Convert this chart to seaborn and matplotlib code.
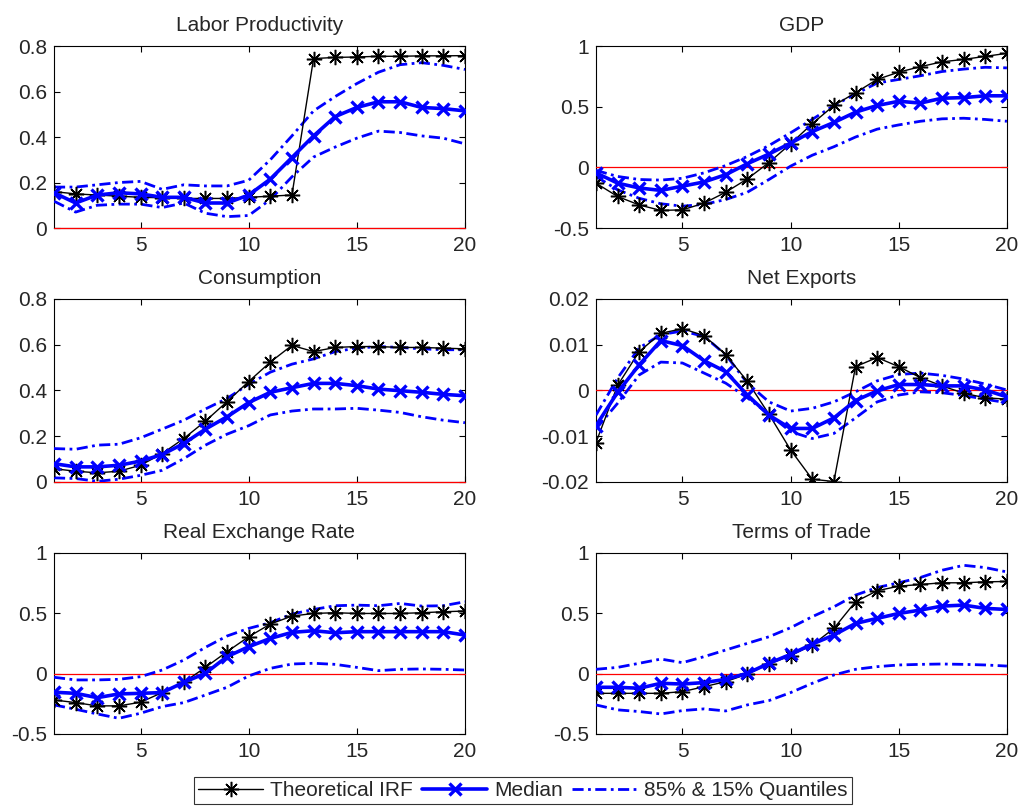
import numpy as np
import pandas as pd
import matplotlib
matplotlib.use("Agg")
import matplotlib.pyplot as plt
from matplotlib.lines import Line2D
import seaborn as sns

# Impulse-response horizon
horizon = list(range(1, 21))

titles = ["Labor Productivity", "GDP", "Consumption", "Net Exports",
          "Real Exchange Rate", "Terms of Trade"]

# Labor productivity
lp_irf = [0.16, 0.15, 0.145, 0.14, 0.135, 0.133, 0.13, 0.13, 0.13, 0.135,
          0.14, 0.145, 0.745, 0.75, 0.752, 0.755, 0.755, 0.757, 0.757, 0.758]
lp_med = [0.155, 0.11, 0.145, 0.155, 0.15, 0.135, 0.135, 0.11, 0.11, 0.145,
          0.215, 0.31, 0.405, 0.49, 0.53, 0.555, 0.555, 0.53, 0.525, 0.515]
lp_q85 = [0.18, 0.18, 0.19, 0.2, 0.205, 0.17, 0.19, 0.185, 0.185, 0.21,
          0.30, 0.405, 0.515, 0.578, 0.635, 0.685, 0.718, 0.727, 0.715, 0.697]
lp_q15 = [0.118, 0.07, 0.1, 0.105, 0.105, 0.09, 0.11, 0.065, 0.05, 0.055,
          0.125, 0.225, 0.312, 0.356, 0.395, 0.426, 0.42, 0.405, 0.395, 0.37]

# GDP
gdp_irf = [-0.13, -0.24, -0.31, -0.355, -0.35, -0.295, -0.205, -0.095, 0.04, 0.195,
           0.36, 0.51, 0.615, 0.725, 0.785, 0.83, 0.87, 0.89, 0.915, 0.94]
gdp_med = [-0.045, -0.13, -0.17, -0.19, -0.155, -0.12, -0.06, 0.03, 0.11, 0.2,
           0.295, 0.37, 0.455, 0.51, 0.545, 0.53, 0.57, 0.575, 0.59, 0.59]
gdp_q85 = [-0.025, -0.075, -0.10, -0.105, -0.09, -0.045, 0.015, 0.09, 0.18, 0.285,
           0.395, 0.51, 0.605, 0.695, 0.725, 0.755, 0.79, 0.81, 0.825, 0.82]
gdp_q15 = [-0.075, -0.185, -0.255, -0.30, -0.32, -0.305, -0.265, -0.205, -0.10, 0.01,
           0.10, 0.17, 0.25, 0.315, 0.35, 0.38, 0.40, 0.405, 0.395, 0.38]

# Consumption
c_irf = [0.058, 0.047, 0.04, 0.047, 0.073, 0.124, 0.19, 0.266, 0.351, 0.439,
         0.524, 0.597, 0.57, 0.588, 0.592, 0.592, 0.588, 0.588, 0.585, 0.582]
c_med = [0.08, 0.066, 0.066, 0.073, 0.091, 0.12, 0.168, 0.231, 0.285, 0.347,
         0.392, 0.412, 0.431, 0.431, 0.421, 0.406, 0.399, 0.392, 0.383, 0.377]
c_q85 = [0.146, 0.143, 0.161, 0.165, 0.193, 0.231, 0.27, 0.319, 0.365, 0.427,
         0.48, 0.515, 0.538, 0.57, 0.585, 0.592, 0.588, 0.582, 0.578, 0.578]
c_q15 = [0.018, 0.015, 0.003, 0.012, 0.029, 0.051, 0.102, 0.161, 0.209, 0.246,
         0.293, 0.31, 0.319, 0.319, 0.322, 0.314, 0.304, 0.285, 0.27, 0.259]

# Net exports
nx_irf = [-0.0114, 0.0011, 0.0085, 0.0125, 0.0135, 0.012, 0.0078, 0.002, -0.0052, -0.013,
          -0.0194, -0.0199, 0.0052, 0.0072, 0.0052, 0.0028, 0.001, -0.0006, -0.0016, -0.0019]
nx_med = [-0.0077, -0.0004, 0.0056, 0.0109, 0.0098, 0.0065, 0.0041, -0.001, -0.0054, -0.0083,
          -0.0083, -0.006, -0.0022, -0.0001, 0.0013, 0.0013, 0.001, 0.001, 0.0001, -0.0014]
nx_q85 = [-0.0054, 0.0027, 0.0093, 0.0122, 0.013, 0.0118, 0.0078, 0.0016, -0.0025, -0.0045,
          -0.0039, -0.0025, -0.0003, 0.0021, 0.0035, 0.0038, 0.0033, 0.0025, 0.0014, 0.0001]
nx_q15 = [-0.0084, -0.0028, 0.0034, 0.0062, 0.006, 0.0038, 0.0016, -0.0016, -0.0052, -0.009,
          -0.0105, -0.0094, -0.006, -0.0025, -0.001, -0.0003, -0.0005, -0.0011, -0.0019, -0.0027]

# Real exchange rate
rer_irf = [-0.218, -0.24, -0.267, -0.267, -0.237, -0.157, -0.072, 0.052, 0.182, 0.306,
           0.411, 0.477, 0.499, 0.505, 0.499, 0.499, 0.499, 0.505, 0.513, 0.519]
rer_med = [-0.154, -0.163, -0.199, -0.168, -0.163, -0.157, -0.072, 0.003, 0.141, 0.223,
           0.292, 0.342, 0.356, 0.339, 0.348, 0.348, 0.348, 0.348, 0.348, 0.32]
rer_q85 = [-0.03, -0.052, -0.052, -0.047, -0.025, 0.03, 0.113, 0.218, 0.312, 0.375,
           0.422, 0.494, 0.532, 0.563, 0.568, 0.563, 0.582, 0.56, 0.563, 0.596]
rer_q15 = [-0.259, -0.295, -0.334, -0.37, -0.328, -0.273, -0.24, -0.177, -0.113, -0.019,
           0.044, 0.08, 0.086, 0.077, 0.052, 0.025, 0.036, 0.039, 0.036, 0.03]

# Terms of trade
tot_irf = [-0.163, -0.163, -0.163, -0.163, -0.149, -0.108, -0.066, -0.003, 0.08, 0.149,
           0.237, 0.375, 0.596, 0.687, 0.725, 0.739, 0.753, 0.753, 0.761, 0.764]
tot_med = [-0.113, -0.113, -0.121, -0.08, -0.086, -0.074, -0.047, 0.003, 0.086, 0.16,
           0.245, 0.32, 0.416, 0.458, 0.499, 0.527, 0.56, 0.568, 0.541, 0.532]
tot_q85 = [0.036, 0.052, 0.086, 0.121, 0.091, 0.141, 0.196, 0.251, 0.306, 0.381,
           0.472, 0.554, 0.651, 0.714, 0.753, 0.797, 0.857, 0.898, 0.879, 0.843]
tot_q15 = [-0.259, -0.30, -0.314, -0.334, -0.306, -0.292, -0.309, -0.259, -0.223, -0.157,
           -0.08, -0.011, 0.036, 0.058, 0.072, 0.077, 0.08, 0.077, 0.072, 0.063]

series = [
    (lp_irf, lp_med, lp_q85, lp_q15),
    (gdp_irf, gdp_med, gdp_q85, gdp_q15),
    (c_irf, c_med, c_q85, c_q15),
    (nx_irf, nx_med, nx_q85, nx_q15),
    (rer_irf, rer_med, rer_q85, rer_q15),
    (tot_irf, tot_med, tot_q85, tot_q15),
]

y_limits = [(0, 0.8), (-0.5, 1), (0, 0.8), (-0.02, 0.02), (-0.5, 1), (-0.5, 1)]
y_ticks = [[0, 0.2, 0.4, 0.6, 0.8],
           [-0.5, 0, 0.5, 1],
           [0, 0.2, 0.4, 0.6, 0.8],
           [-0.02, -0.01, 0, 0.01, 0.02],
           [-0.5, 0, 0.5, 1],
           [-0.5, 0, 0.5, 1]]
y_ticklabels = [["0", "0.2", "0.4", "0.6", "0.8"],
                ["-0.5", "0", "0.5", "1"],
                ["0", "0.2", "0.4", "0.6", "0.8"],
                ["-0.02", "-0.01", "0", "0.01", "0.02"],
                ["-0.5", "0", "0.5", "1"],
                ["-0.5", "0", "0.5", "1"]]
x_ticks = [5, 10, 15, 20]

legend_labels = ["Theoretical IRF", "Median", "85% & 15% Quantiles"]

sns.set_style("white")
plt.rcParams["font.family"] = ["Liberation Sans", "DejaVu Sans"]
plt.rcParams["xtick.direction"] = "in"
plt.rcParams["ytick.direction"] = "in"

BLUE = "#0000ff"
DASHDOT = (0, (4.0, 1.6, 1.0, 1.6))
ASTERISK = (8, 2, 0)   # eight-armed asterisk marker

fig = plt.figure(figsize=(10.21, 8.08), dpi=100)

col_left = [0.0529, 0.5837]
row_bottom = [0.7178, 0.4035, 0.0916]
row_height = [0.2252, 0.2265, 0.224]
ax_width = 0.4025

for i, (irf, med, q85, q15) in enumerate(series):
    r, c = divmod(i, 2)
    ax = fig.add_axes([col_left[c], row_bottom[r], ax_width, row_height[r]])
    df = pd.DataFrame({"h": horizon, "irf": irf, "med": med, "q85": q85, "q15": q15})

    ax.axhline(0, color="red", lw=0.9, zorder=2.6, clip_on=False)
    sns.lineplot(data=df, x="h", y="q85", ax=ax, color=BLUE, lw=2.0,
                 linestyle=DASHDOT, zorder=3)
    sns.lineplot(data=df, x="h", y="q15", ax=ax, color=BLUE, lw=2.0,
                 linestyle=DASHDOT, zorder=3)
    sns.lineplot(data=df, x="h", y="irf", ax=ax, color="black", lw=1.0,
                 marker=ASTERISK, markersize=11, markeredgewidth=1.1,
                 markeredgecolor="black", zorder=4)
    sns.lineplot(data=df, x="h", y="med", ax=ax, color=BLUE, lw=2.6,
                 marker="x", markersize=8, markeredgewidth=2.4,
                 markeredgecolor=BLUE, zorder=5)

    ax.set_xlim(1, 20)
    ax.set_ylim(*y_limits[i])
    ax.set_xticks(x_ticks)
    ax.set_xticklabels([str(t) for t in x_ticks])
    ax.set_yticks(y_ticks[i])
    ax.set_yticklabels(y_ticklabels[i])
    ax.set_xlabel("")
    ax.set_ylabel("")
    ax.set_title(titles[i], fontsize=15, pad=11)
    ax.tick_params(axis="both", which="both", direction="in", length=4,
                   width=0.8, labelsize=15, top=True, right=True,
                   bottom=True, left=True, color="black")
    ax.tick_params(axis="y", pad=5)
    ax.tick_params(axis="x", pad=6)
    for sp in ax.spines.values():
        sp.set_visible(True)
        sp.set_color("black")
        sp.set_linewidth(0.8)

handles = [
    Line2D([], [], color="black", lw=1.0, marker=ASTERISK, markersize=11,
           markeredgewidth=1.1, markeredgecolor="black"),
    Line2D([], [], color=BLUE, lw=2.6, marker="x", markersize=8,
           markeredgewidth=2.4, markeredgecolor=BLUE),
    Line2D([], [], color=BLUE, lw=2.0, linestyle=DASHDOT),
]
leg = fig.legend(handles, legend_labels, loc="center", ncol=3,
                 bbox_to_anchor=(0.5122, 0.0217), fontsize=15,
                 frameon=True, fancybox=False, edgecolor="black",
                 handlelength=3.1, handletextpad=0.35, columnspacing=0.45,
                 borderpad=0.2, borderaxespad=0)
leg.get_frame().set_linewidth(0.8)

fig.savefig("out.png", dpi=100)
